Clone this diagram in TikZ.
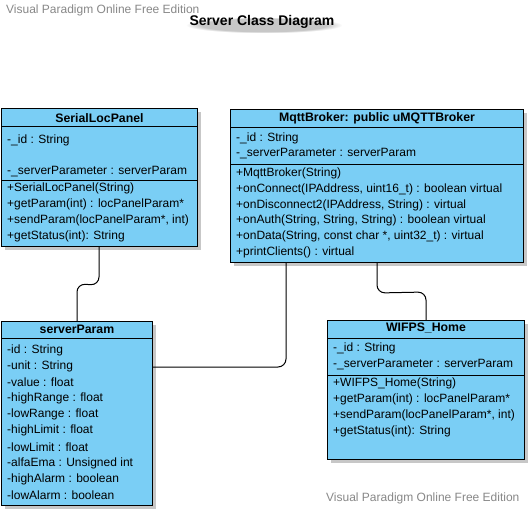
\documentclass[tikz,border=0pt]{standalone}
\usepackage{fontspec}
\setmainfont{Liberation Sans}
\usetikzlibrary{shadows,calc,fadings}
\definecolor{umlfill}{RGB}{122,206,245}
\definecolor{wmgray}{RGB}{136,136,136}
\begin{document}
\begin{tikzpicture}[x=1pt,y=-1pt,
  cls/.style={draw=black, line width=1pt, fill=umlfill, rectangle, anchor=north west, inner sep=0pt,
    drop shadow={shadow xshift=3pt, shadow yshift=-3pt, fill=black, opacity=0.22}},
  ttl/.style={font=\fontsize{12.3}{14}\selectfont\bfseries, anchor=center, inner sep=0pt},
  txt/.style={font=\fontsize{12}{14}\selectfont, anchor=west, inner sep=0pt},
  sep/.style={draw=black, line width=0.8pt},
  conn/.style={draw=black, line width=1pt, rounded corners=8pt},
  wm/.style={text=wmgray, anchor=west, inner sep=0pt, font=\fontsize{12}{14}\selectfont}]
\fill[white] (0,0) rectangle (531,514);
\useasboundingbox (0,0) rectangle (531,514);

% title shadow (soft blur)
\fill[black, opacity=0.22, path fading=circle with fuzzy edge 20 percent] (186,17) rectangle (342,33);

% watermarks and title
\node[wm] (wm1) at (6,10) {Visual Paradigm Online Free Edition};
\node[wm] (wm2) at (326,498) {Visual Paradigm Online Free Edition};
\node[font=\fontsize{14}{16}\selectfont\bfseries, inner sep=0pt] (title) at (262,22) {Server Class Diagram};

% SerialLocPanel
\node[cls, minimum width=196pt, minimum height=138pt] (slp) at (1,108) {};
\draw[sep] ($(slp.north west)+(0,18)$) -- ($(slp.north east)+(0,18)$);
\draw[sep] ($(slp.north west)+(0,72)$) -- ($(slp.north east)+(0,72)$);
\node[ttl] (slpT) at ($(slp.north)+(0,10)$) {SerialLocPanel};
\node[txt] (slpA1) at (7,140) {-\_id : String};
\node[txt] (slpA2) at (7,172) {-\_serverParameter : serverParam};
\node[txt] (slpM1) at (7,188) {+SerialLocPanel(String)};
\node[txt] (slpM2) at (7,204) {+getParam(int) : locPanelParam*};
\node[txt] (slpM3) at (7,220) {+sendParam(locPanelParam*, int)};
\node[txt] (slpM4) at (7,236) {+getStatus(int): String};

% MqttBroker
\node[cls, minimum width=293pt, minimum height=153pt] (mb) at (230,109) {};
\draw[sep] ($(mb.north west)+(0,18)$) -- ($(mb.north east)+(0,18)$);
\draw[sep] ($(mb.north west)+(0,55)$) -- ($(mb.north east)+(0,55)$);
\node[ttl] (mbT) at ($(mb.north)+(0,9)$) {MqttBroker: public uMQTTBroker};
\node[txt] (mbA1) at (236,138) {-\_id : String};
\node[txt] (mbA2) at (236,154) {-\_serverParameter : serverParam};
\node[txt] (mbM1) at (236,173) {+MqttBroker(String)};
\node[txt] (mbM2) at (236,189) {+onConnect(IPAddress, uint16\_t) : boolean virtual};
\node[txt] (mbM3) at (236,205) {+onDisconnect2(IPAddress, String) : virtual};
\node[txt] (mbM4) at (236,220) {+onAuth(String, String, String) : boolean virtual};
\node[txt] (mbM5) at (236,236) {+onData(String, const char *, uint32\_t) : virtual};
\node[txt] (mbM6) at (236,252) {+printClients() : virtual};

% serverParam
\node[cls, minimum width=151pt, minimum height=184pt] (sp) at (1,321) {};
\draw[sep] ($(sp.north west)+(0,17)$) -- ($(sp.north east)+(0,17)$);
\node[ttl] (spT) at ($(sp.north)+(0,8)$) {serverParam};
\node[txt] (spA1) at (7,350) {-id : String};
\node[txt] (spA2) at (7,366) {-unit : String};
\node[txt] (spA3) at (7,382) {-value : float};
\node[txt] (spA4) at (7,398) {-highRange : float};
\node[txt] (spA5) at (7,414) {-lowRange : float};
\node[txt] (spA6) at (7,430) {-highLimit : float};
\node[txt] (spA7) at (7,447) {-lowLimit : float};
\node[txt] (spA8) at (7,463) {-alfaEma : Unsigned int};
\node[txt] (spA9) at (7,479) {-highAlarm : boolean};
\node[txt] (spA10) at (7,495) {-lowAlarm : boolean};

% WIFPS_Home
\node[cls, minimum width=197pt, minimum height=139pt] (wh) at (327,320) {};
\draw[sep] ($(wh.north west)+(0,18)$) -- ($(wh.north east)+(0,18)$);
\draw[sep] ($(wh.north west)+(0,55)$) -- ($(wh.north east)+(0,55)$);
\node[ttl] (whT) at ($(wh.north)+(0,8)$) {WIFPS\_Home};
\node[txt] (whA1) at (333,348) {-\_id : String};
\node[txt] (whA2) at (333,365) {-\_serverParameter : serverParam};
\node[txt] (whM1) at (333,383) {+WIFPS\_Home(String)};
\node[txt] (whM2) at (333,399) {+getParam(int) : locPanelParam*};
\node[txt] (whM3) at (333,415) {+sendParam(locPanelParam*, int)};
\node[txt] (whM4) at (333,431) {+getStatus(int): String};

% connectors
\draw[conn] ($(slp.south west)+(98,0)$) -- ($(slp.south west)+(98,38)$) -- ($(sp.north west)+(76,-37)$) -- ($(sp.north west)+(76,0)$);
\draw[conn] ($(mb.south west)+(56,0)$) |- ($(sp.north east)+(0,46)$);
\draw[conn] ($(mb.south west)+(147,0)$) -- ($(mb.south west)+(147,30)$) -- ($(wh.north west)+(99,-28)$) -- ($(wh.north west)+(99,0)$);
\end{tikzpicture}
\end{document}
